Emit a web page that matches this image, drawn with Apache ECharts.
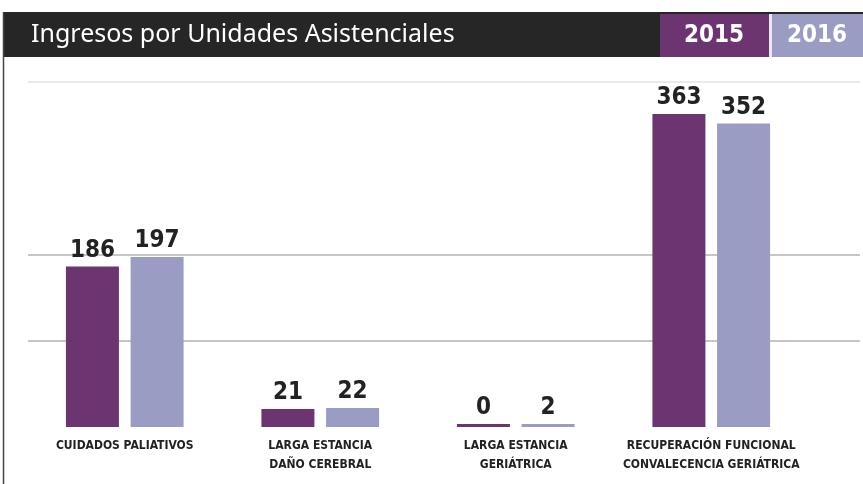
<!DOCTYPE html>
<html>
<head>
<meta charset="utf-8">
<script src="https://cdn.jsdelivr.net/npm/echarts@6/dist/echarts.min.js"></script>
<style>
html, body { margin: 0; padding: 0; background: #fff; }
#chart { width: 863px; height: 484px; }
</style>
</head>
<body>
<div id="chart"></div>
<script>
// categorias y valores
var categorias = [
    'CUIDADOS PALIATIVOS',
    'LARGA ESTANCIA\nDAÑO CEREBRAL',
    'LARGA ESTANCIA\nGERIÁTRICA',
    'RECUPERACIÓN FUNCIONAL\nCONVALECENCIA GERIÁTRICA'
];
var valores2015 = [186, 21, 0, 363];
var valores2016 = [197, 22, 2, 352];
var anios = ['2015', '2016'];

var colores = { morado: '#6c3470', lila: '#9a9cc4', fondo: '#262626', texto: '#222' };
var fuenteNum = "'Liberation Sans Narrow', 'DejaVu Sans Condensed', sans-serif";

var myChart = echarts.init(document.getElementById('chart'));

var etiqueta = {
    show: true,
    position: 'top',
    distance: 4,
    color: colores.texto,
    fontSize: 24,
    fontWeight: 'bold',
    fontFamily: fuenteNum
};

var option = {
    backgroundColor: '#fff',
    animation: false,
    title: {
        text: 'Ingresos por Unidades Asistenciales',
        left: 26,
        top: 17,
        textStyle: { color: '#fff', fontSize: 25, fontWeight: 'normal', fontFamily: "'Noto Sans', sans-serif" }
    },
    graphic: [
        { type: 'rect', z: -1, shape: { x: 3, y: 12, width: 860, height: 45 }, style: { fill: colores.fondo } },
        { type: 'rect', shape: { x: 660, y: 14, width: 109, height: 43 }, style: { fill: colores.morado } },
        { type: 'rect', shape: { x: 769, y: 14, width: 3, height: 43 }, style: { fill: '#e8e8ee' } },
        { type: 'rect', shape: { x: 772, y: 14, width: 91, height: 43 }, style: { fill: colores.lila } },
        { type: 'text', x: 714, y: 36, style: { text: anios[0], fill: '#fff', font: 'bold 24px ' + fuenteNum, textAlign: 'center', textVerticalAlign: 'middle' } },
        { type: 'text', x: 817, y: 36, style: { text: anios[1], fill: '#fff', font: 'bold 24px ' + fuenteNum, textAlign: 'center', textVerticalAlign: 'middle' } },
        { type: 'line', shape: { x1: 3.5, y1: 12, x2: 3.5, y2: 484 }, style: { stroke: '#444', lineWidth: 1.5 } }
    ],
    grid: [
        { left: 28, right: 3, top: 82, bottom: 57 },
        { left: 27, right: 54, top: 82, bottom: 57 }
    ],
    xAxis: [
        { gridIndex: 0, type: 'category', data: categorias, show: false },
        {
            gridIndex: 1,
            type: 'category',
            data: categorias,
            axisLine: { show: false },
            axisTick: { show: false },
            axisLabel: {
                color: colores.texto,
                fontSize: 12,
                fontWeight: 'bold',
                lineHeight: 19,
                margin: 9,
                interval: 0,
                fontFamily: fuenteNum
            }
        }
    ],
    yAxis: [
        {
            gridIndex: 0,
            type: 'value',
            min: 0,
            max: 400,
            interval: 100,
            axisLabel: { show: false },
            axisLine: { show: false },
            axisTick: { show: false },
            splitLine: {
                show: true,
                lineStyle: { color: ['rgba(0,0,0,0)', '#b3b3b3', '#b3b3b3', 'rgba(0,0,0,0)', '#e2e2e2'], width: 1.5 }
            }
        },
        { gridIndex: 1, type: 'value', min: 0, max: 400, show: false }
    ],
    series: [
        {
            name: anios[0],
            type: 'bar',
            xAxisIndex: 1,
            yAxisIndex: 1,
            data: valores2015,
            barWidth: 53,
            barGap: '22%',
            barMinHeight: 3,
            itemStyle: { color: colores.morado },
            label: etiqueta
        },
        {
            name: anios[1],
            type: 'bar',
            xAxisIndex: 1,
            yAxisIndex: 1,
            data: valores2016,
            barWidth: 53,
            barGap: '22%',
            barMinHeight: 3,
            itemStyle: { color: colores.lila },
            label: etiqueta
        }
    ]
};

myChart.setOption(option);
</script>
</body>
</html>
